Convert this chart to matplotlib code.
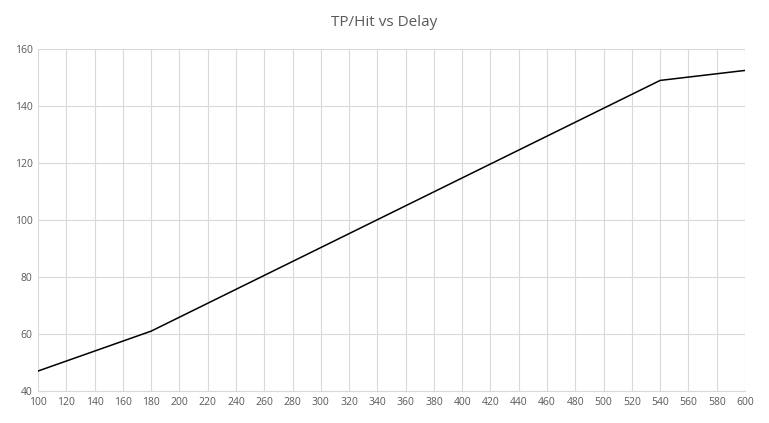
import matplotlib
matplotlib.use("Agg")
import matplotlib.pyplot as plt

delay = [100, 180, 540, 600]
tp_hit = [47, 61, 149, 152.5]
xticks = list(range(100, 601, 20))
yticks = list(range(40, 161, 20))

plt.rcParams['font.family'] = ['Open Sans', 'DejaVu Sans']
fig = plt.figure(figsize=(7.69, 4.23), dpi=100)
ax = fig.add_axes([0.0494, 0.0757, 0.9194, 0.8083])
ax.plot(delay, tp_hit, color='black', lw=1.1)
ax.set_xlim(100, 600)
ax.set_ylim(40, 160)
ax.set_xticks(xticks)
ax.set_yticks(yticks)
ax.grid(True, color='#d9d9d9', lw=0.8)
ax.set_axisbelow(True)
for s in ['top', 'right', 'left']:
    ax.spines[s].set_visible(False)
ax.spines['bottom'].set_color('#d9d9d9')
ax.tick_params(length=0, labelsize=7.5, colors='#595959', pad=4)
fig.suptitle('TP/Hit vs Delay', y=0.965, fontsize=11, color='#595959')
fig.savefig('out.png', dpi=100)
